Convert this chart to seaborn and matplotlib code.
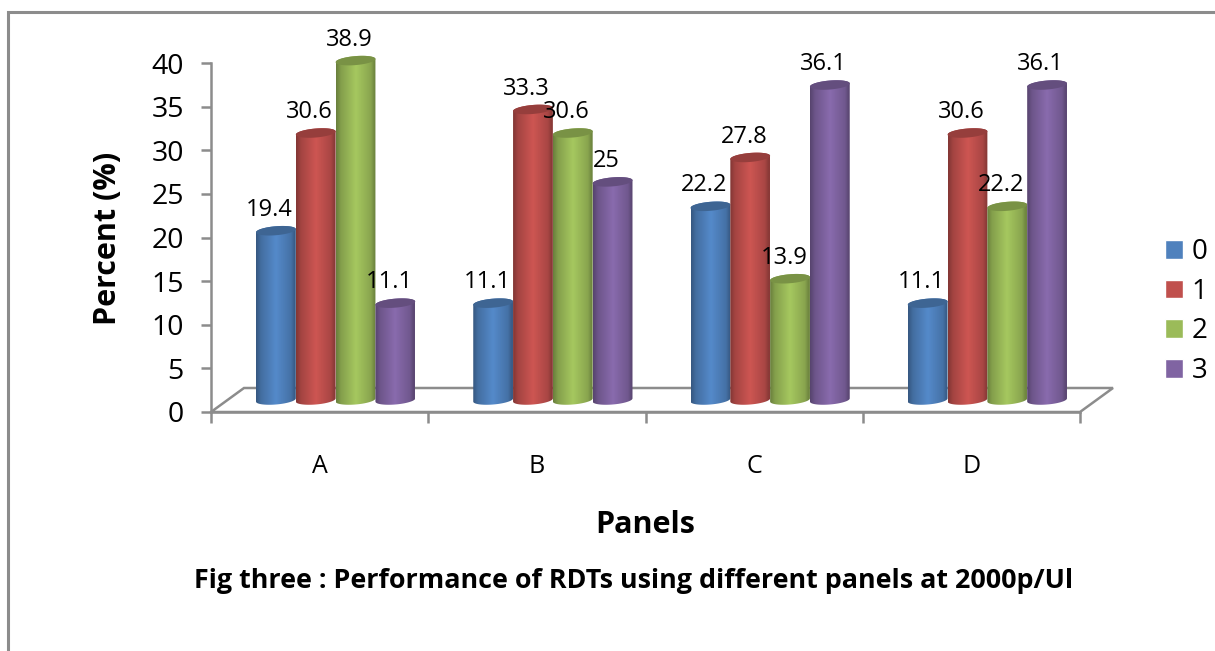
"""Clustered cylinder chart: RDT performance by panel
"""

import matplotlib.pyplot as plt
from matplotlib.colors import to_rgb
from matplotlib.lines import Line2D
from matplotlib.patches import Polygon
import numpy as np
import pandas as pd
import seaborn as sns

panels = ["A", "B", "C", "D"]
series_names = ["0", "1", "2", "3"]
values_0 = [19.4, 11.1, 22.2, 11.1]
values_1 = [30.6, 33.3, 27.8, 30.6]
values_2 = [38.9, 30.6, 13.9, 22.2]
values_3 = [11.1, 25, 36.1, 36.1]
colors = ["#4f81bd", "#c0504d", "#9bbb59", "#8064a2"]
y_ticks = [0, 5, 10, 15, 20, 25, 30, 35, 40]

GREY = "#8c8c8c"
W, H = 1215, 651

sns.set_theme(style="white")
plt.rcParams["font.family"] = ["Open Sans", "DejaVu Sans"]
plt.rcParams["text.color"] = "black"

rows = []
for name, vals in zip(series_names, [values_0, values_1, values_2, values_3]):
    for panel, val in zip(panels, vals):
        rows.append({"panel": panel, "series": name, "percent": val})
data = pd.DataFrame(rows)

fig = plt.figure(figsize=(W / 100, H / 100), dpi=100)


def px_axes(left, right, bottom, top):
    return fig.add_axes([left / W, 1 - bottom / H, (right - left) / W, (bottom - top) / H])


# front plane with the axes, and a see-through one shifted back for the bars
ax = px_axes(211, 1080, 412, 63)
ax_bars = px_axes(227, 1096, 400, 51)

sns.barplot(data=data, x="panel", y="percent", hue="series", order=panels, hue_order=series_names,
            palette=colors, width=0.733, gap=0, saturation=1, errorbar=None, ax=ax_bars)
ax_bars.set_xlim(-0.5, 3.5)
ax_bars.set_ylim(0, 40)
ax_bars.set_axis_off()
sns.move_legend(ax_bars, loc="upper left", bbox_to_anchor=(1165 / W, 1 - 238 / H),
                bbox_transform=fig.transFigure, frameon=False, title=None, fontsize=20,
                handlelength=0.65, handleheight=0.65, handletextpad=0.3, labelspacing=0.42,
                borderpad=0, borderaxespad=0)

per_x = 4 / 869  # categories per pixel
per_y = 40 / 349  # percent per pixel
rx_tilt = 1.6 * per_y
ry = 4.5 * per_y
theta = np.linspace(0, np.pi, 40)

z = 3
for cont, col in zip(ax_bars.containers, colors):
    rgb = np.array(to_rgb(col))
    for bar, val in zip(cont.patches, cont.datavalues):
        x0, x1 = bar.get_x(), bar.get_x() + bar.get_width()
        xc, rx = (x0 + x1) / 2, (x1 - x0) / 2
        bar.set_visible(False)

        top_x = xc + rx * np.cos(theta)
        tilt = rx_tilt * np.cos(theta)
        outline = np.r_[np.c_[top_x, val + ry * np.sin(theta) + tilt],
                        np.c_[top_x[::-1], -ry * np.sin(theta[::-1]) + tilt[::-1]]]
        clip = Polygon(outline, closed=True, transform=ax_bars.transData)

        shade = np.interp(np.linspace(0, 1, 60), [0, 0.12, 0.5, 0.88, 0.97, 1], [0.68, 0.85, 1.07, 0.88, 0.72, 0.72])
        grad = np.clip(rgb[None, None, :] * shade[None, :, None], 0, 1)
        im = ax_bars.imshow(grad, extent=(x0, x1, -2, val + 2), aspect="auto", zorder=z, interpolation="bilinear")
        im.set_clip_box(fig.bbox)
        im.set_clip_path(clip)

        cap = np.r_[np.c_[top_x, val + ry * np.sin(theta) + tilt],
                    np.c_[top_x[::-1], val - ry * np.sin(theta[::-1]) + tilt[::-1]]]
        ax_bars.add_patch(Polygon(cap, closed=True, fc=rgb * 0.78, ec="none", zorder=z + 0.5, clip_on=False))
        ax_bars.annotate(f"{val:g}", (xc, val), xytext=(-4.5, 15), textcoords="offset points", ha="center",
                         va="center", fontsize=17, color="black", zorder=50, annotation_clip=False)
        z += 1
ax_bars.set_xlim(-0.5, 3.5)
ax_bars.set_ylim(0, 40)

# axes
ax.set_zorder(0)
ax_bars.set_zorder(1)
ax.set_xlim(0, 4)
ax.set_ylim(0, 40)
ax.set_xticks(range(5))
ax.set_xticklabels([])
ax.set_xticks([0.5, 1.5, 2.5, 3.5], panels, minor=True)
ax.set_yticks(y_ticks)
ax.tick_params(axis="y", which="major", direction="out", left=True, length=7.5, width=1.8, color=GREY,
               labelsize=20.5, pad=12, labelcolor="black")
ax.tick_params(axis="x", which="major", direction="out", bottom=True, length=8, width=1.8, color=GREY)
ax.tick_params(axis="x", which="minor", bottom=False, labelsize=18, pad=26, labelcolor="black")
sns.despine(ax=ax, top=True, right=True)
ax.spines["left"].set(color=GREY, linewidth=1.8)
ax.spines["bottom"].set(color=GREY, linewidth=1.8)

# floor of the 3D box
dx, dy = 33 * per_x, 24 * per_y
ax.plot([0, dx, 4 + dx, 4, 0], [0, dy, dy, 0, 0], color=GREY, lw=1.8, clip_on=False, solid_joinstyle="miter")

fig.text(108 / W, 1 - 238 / H, "Percent (%)", rotation=90, ha="center", va="center", fontsize=22, fontweight="bold")
fig.text(645 / W, 1 - 525 / H, "Panels", ha="center", va="center", fontsize=22, fontweight="bold")
fig.text(634 / W, 1 - 581 / H, "Fig three : Performance of RDTs using different panels at 2000p/Ul",
         ha="center", va="center", fontsize=19.4, fontweight="bold")

# outer frame of the pasted chart
fig.add_artist(Line2D([8 / W, 8 / W, 1], [0, 1 - 12 / H, 1 - 12 / H], transform=fig.transFigure, color=GREY, lw=2.2,
                      solid_joinstyle="miter"))

plt.savefig("out.png", dpi=100)
